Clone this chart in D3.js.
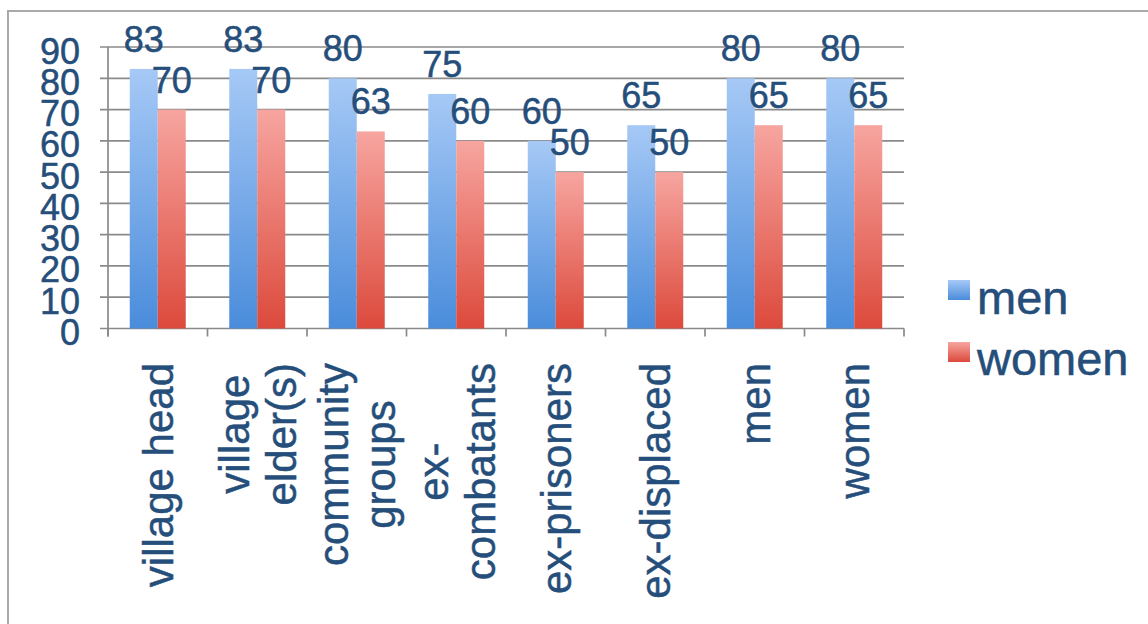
<!DOCTYPE html>
<html>
<head>
<meta charset="utf-8">
<script src="https://cdn.jsdelivr.net/npm/d3@7"></script>
<style>
  html, body { margin: 0; padding: 0; background: #fff; }
  svg { display: block; font-family: "Liberation Sans", Arial, Helvetica, sans-serif; }
  svg text { stroke: #254e7b; stroke-width: 0.5px; }
</style>
</head>
<body>
<svg id="chart" width="1148" height="624"></svg>
<script>
// Category labels (each entry is a list of text lines)
const categories = [
  ["village head"],
  ["village", "elder(s)"],
  ["community", "groups"],
  ["ex-", "combatants"],
  ["ex-prisoners"],
  ["ex-displaced"],
  ["men"],
  ["women"]
];
const seriesNames = ["men", "women"];
const menValues = [83, 83, 80, 75, 60, 65, 80, 80];
const womenValues = [70, 70, 63, 60, 50, 50, 65, 65];
const yTicks = [0, 10, 20, 30, 40, 50, 60, 70, 80, 90];

const textColor = "#254e7b";
const gridColor = "#8a8a8a";

const svg = d3.select("#chart");
const W = 1148, H = 624;

// outer frame
svg.append("rect")
  .attr("x", 8).attr("y", 11)
  .attr("width", W + 20).attr("height", H + 20)
  .attr("fill", "#fff")
  .attr("stroke", "#a9a9a9").attr("stroke-width", 2);

// gradients for the two series
const defs = svg.append("defs");
const gradStops = {
  men: ["#a6c9f6", "#4a8cdb"],
  women: ["#f7a5a0", "#dc4a3c"]
};
seriesNames.forEach(s => {
  const g = defs.append("linearGradient")
    .attr("id", "grad-" + s)
    .attr("x1", 0).attr("y1", 0).attr("x2", 0).attr("y2", 1);
  g.append("stop").attr("offset", "0%").attr("stop-color", gradStops[s][0]);
  g.append("stop").attr("offset", "100%").attr("stop-color", gradStops[s][1]);
});

const plot = { left: 108, right: 904, top: 47, bottom: 328.5 };

const catIdx = categories.map((d, i) => i);
const x0 = d3.scaleBand().domain(catIdx).range([plot.left, plot.right]).padding(0);
const x1 = d3.scaleBand().domain(seriesNames).range([0, x0.bandwidth()])
  .paddingInner(0).paddingOuter(0.777);
const y = d3.scaleLinear().domain([0, 90]).range([plot.bottom, plot.top]);

// horizontal gridlines
svg.append("g").selectAll("line")
  .data(yTicks)
  .join("line")
  .attr("x1", plot.left - 8).attr("x2", plot.right)
  .attr("y1", d => y(d)).attr("y2", d => y(d))
  .attr("stroke", gridColor).attr("stroke-width", 1.7);

// y axis line
svg.append("line")
  .attr("x1", plot.left).attr("x2", plot.left)
  .attr("y1", y(90)).attr("y2", plot.bottom + 8)
  .attr("stroke", gridColor).attr("stroke-width", 1.7);

// x tick marks at category boundaries
const bounds = catIdx.map(i => x0(i)).concat([plot.right]);
svg.append("g").selectAll("line")
  .data(bounds)
  .join("line")
  .attr("x1", d => d).attr("x2", d => d)
  .attr("y1", plot.bottom).attr("y2", plot.bottom + 8)
  .attr("stroke", gridColor).attr("stroke-width", 1.7);

// y tick labels
svg.append("g").selectAll("text")
  .data(yTicks)
  .join("text")
  .attr("x", 80)
  .attr("y", d => y(d) + 16.5)
  .attr("text-anchor", "end")
  .attr("fill", textColor)
  .attr("font-size", 36)
  .text(d => d);

// bars
const rows = catIdx.map(i => ({ i, men: menValues[i], women: womenValues[i] }));
const groups = svg.append("g").selectAll("g")
  .data(rows)
  .join("g")
  .attr("transform", d => `translate(${x0(d.i)},0)`);

groups.selectAll("rect")
  .data(d => seriesNames.map(s => ({ s, v: d[s] })))
  .join("rect")
  .attr("x", d => x1(d.s))
  .attr("width", x1.bandwidth())
  .attr("y", d => y(d.v))
  .attr("height", d => y(0) - y(d.v))
  .attr("fill", d => `url(#grad-${d.s})`);

// value labels above bars
groups.selectAll("text")
  .data(d => seriesNames.map(s => ({ s, v: d[s] })))
  .join("text")
  .attr("x", d => x1(d.s) + x1.bandwidth() / 2)
  .attr("y", d => y(d.v) - 17)
  .attr("text-anchor", "middle")
  .attr("fill", textColor)
  .attr("font-size", 36)
  .text(d => d.v);

// rotated category labels, block ends just below the axis
const labelTop = 363;
const lineGap = 47;
const catG = svg.append("g");
categories.forEach((lines, i) => {
  const cx = x0(i) + x0.bandwidth() / 2;
  const t = catG.append("text")
    .attr("fill", textColor)
    .attr("font-size", 42)
    .attr("text-anchor", "middle");
  const n = lines.length;
  lines.forEach((ln, k) => {
    t.append("tspan")
      .attr("x", 0)
      .attr("y", (k - (n - 1) / 2) * lineGap + 15)
      .text(ln);
  });
  const maxLen = d3.max(t.selectAll("tspan").nodes(), nd => nd.getComputedTextLength());
  t.attr("transform", `translate(${cx},${labelTop + maxLen / 2}) rotate(-90)`);
});

// legend
const legend = svg.append("g");
const legendRows = [
  { s: "men", sq: 280, base: 314 },
  { s: "women", sq: 342, base: 375 }
];
legendRows.forEach(r => {
  legend.append("rect")
    .attr("x", 948).attr("y", r.sq)
    .attr("width", 22).attr("height", 20)
    .attr("fill", `url(#grad-${r.s})`);
  legend.append("text")
    .attr("x", 977).attr("y", r.base)
    .attr("fill", textColor)
    .attr("font-size", 47)
    .text(r.s);
});
</script>
</body>
</html>
